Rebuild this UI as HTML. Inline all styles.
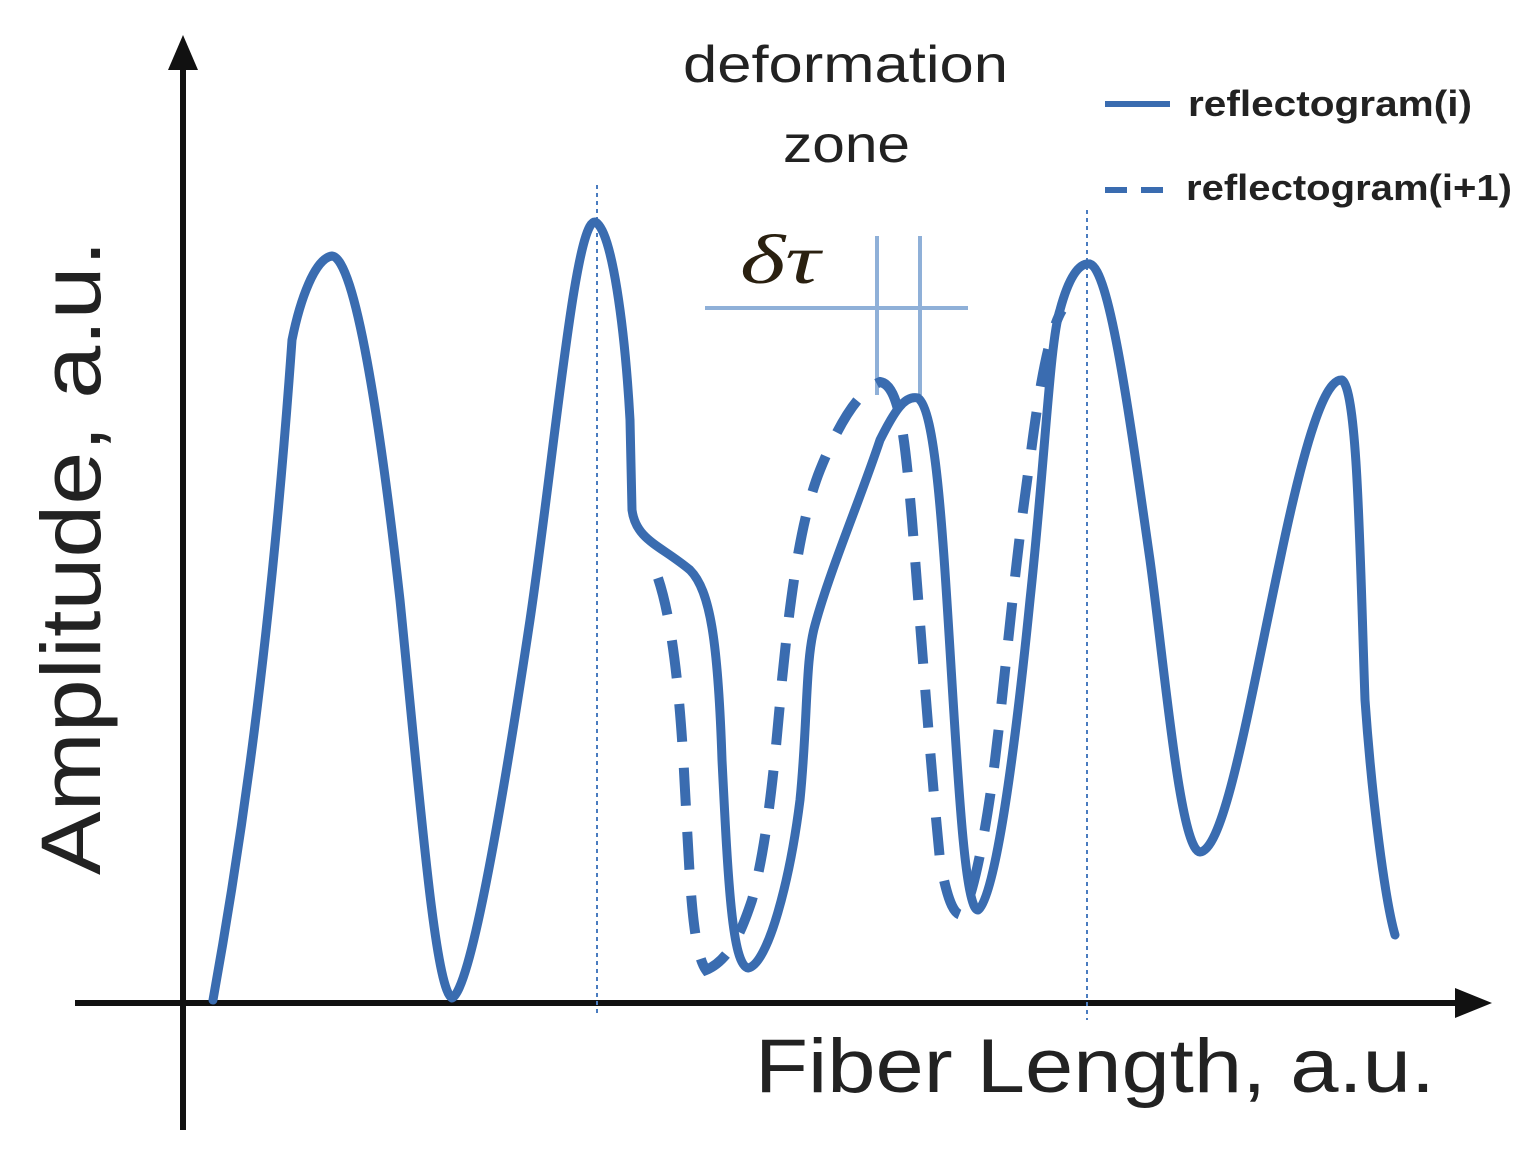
<!DOCTYPE html>
<html><head><style>
html,body{margin:0;padding:0;background:#fff;}
svg{display:block;}
</style></head><body>
<svg width="1535" height="1153" viewBox="0 0 1535 1153" xmlns="http://www.w3.org/2000/svg">
<!-- axes -->
<line x1="183" y1="60" x2="183" y2="1130" stroke="#111" stroke-width="6"/>
<polygon points="183,35 168,70 198,70" fill="#111"/>
<line x1="75" y1="1003" x2="1465" y2="1003" stroke="#111" stroke-width="6"/>
<polygon points="1492,1003 1455,988 1455,1018" fill="#111"/>
<!-- dotted verticals -->
<line x1="597" y1="185" x2="597" y2="1015" stroke="#4a7cc0" stroke-width="2" stroke-dasharray="4,4"/>
<line x1="1087" y1="210" x2="1087" y2="1020" stroke="#4a7cc0" stroke-width="2" stroke-dasharray="4,4"/>
<!-- delta tau marker -->
<g stroke="#8fb0d8" stroke-width="4" fill="none">
<line x1="705" y1="308" x2="968" y2="308"/>
<line x1="877" y1="236" x2="877" y2="395"/>
<line x1="920" y1="236" x2="920" y2="395"/>
</g>
<text x="740" y="283" font-family="Liberation Serif, serif" font-style="italic" font-size="70" fill="#2a2010" textLength="80" lengthAdjust="spacingAndGlyphs">δτ</text>
<!-- solid curve -->
<path d="M213,1000 C240,850 270,650 292,340 C300,300 315,258 332,256 C355,258 380,420 400,600 C420,800 435,990 452,998 C470,990 500,820 530,620 C555,450 575,220 595,222 C612,228 625,330 630,420 L632,510 C636,540 660,545 690,570 C710,590 718,640 722,760 C728,880 732,965 748,968 C768,965 790,880 800,800 C808,720 805,660 815,625 C830,570 860,500 880,440 C895,410 905,395 918,398 C935,410 942,520 950,650 C958,780 965,910 978,910 C995,900 1015,750 1030,600 C1045,460 1050,340 1060,310 C1068,280 1078,262 1090,264 C1110,270 1130,420 1150,560 C1165,670 1180,850 1200,852 C1225,850 1250,700 1280,560 C1305,440 1325,378 1342,380 C1358,390 1360,560 1365,700 C1372,800 1385,900 1395,935"
 fill="none" stroke="#3a6cb0" stroke-width="9" stroke-linecap="round" stroke-linejoin="round"/>
<!-- dashed curve -->
<path d="M658,578 C672,620 680,690 685,790 C690,880 692,950 706,970 C730,960 742,930 752,900 C768,840 775,760 782,680 C790,600 800,520 820,470 C840,420 860,390 880,382 C900,385 905,440 912,520 C920,620 930,760 940,860 C948,905 955,915 962,915 C972,900 985,840 995,760 C1005,680 1015,560 1030,460 C1040,380 1050,330 1062,310"
 fill="none" stroke="#3a6cb0" stroke-width="10" stroke-dasharray="38,26" stroke-linecap="butt"/>
<!-- title -->
<text x="683" y="82" font-family="Liberation Sans, sans-serif" font-size="52" fill="#222" textLength="325" lengthAdjust="spacingAndGlyphs">deformation</text>
<text x="783" y="162" font-family="Liberation Sans, sans-serif" font-size="52" fill="#222" textLength="127" lengthAdjust="spacingAndGlyphs">zone</text>
<!-- legend -->
<line x1="1105" y1="104" x2="1170" y2="104" stroke="#3a6cb0" stroke-width="6"/>
<text x="1188" y="116" font-family="Liberation Sans, sans-serif" font-weight="bold" font-size="36" fill="#222" textLength="284" lengthAdjust="spacingAndGlyphs">reflectogram(i)</text>
<line x1="1105" y1="190" x2="1170" y2="190" stroke="#3a6cb0" stroke-width="6" stroke-dasharray="22,14"/>
<text x="1186" y="200" font-family="Liberation Sans, sans-serif" font-weight="bold" font-size="36" fill="#222" textLength="326" lengthAdjust="spacingAndGlyphs">reflectogram(i+1)</text>
<!-- axis labels -->
<text x="755" y="1092" font-family="Liberation Sans, sans-serif" font-size="76" fill="#222" textLength="680" lengthAdjust="spacingAndGlyphs">Fiber Length, a.u.</text>
<text transform="translate(100,875) rotate(-90)" x="0" y="0" font-family="Liberation Sans, sans-serif" font-size="84" fill="#222" textLength="635" lengthAdjust="spacingAndGlyphs">Amplitude, a.u.</text>
</svg>
</body></html>
